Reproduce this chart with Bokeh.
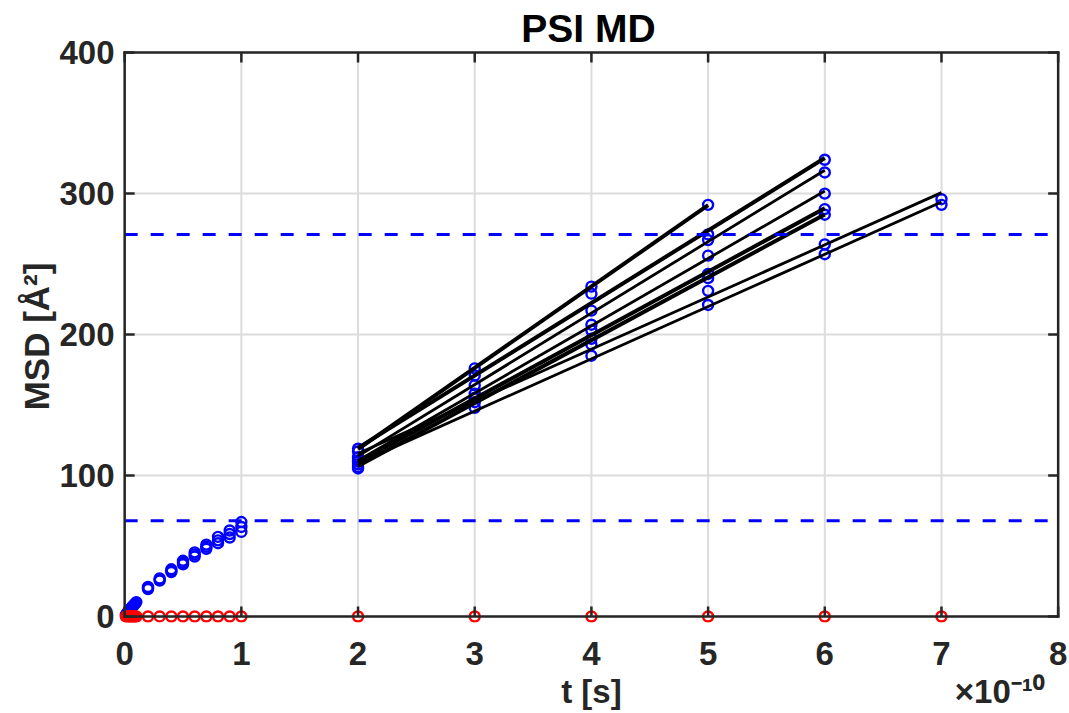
import numpy as np
from bokeh.plotting import figure
from bokeh.models import Range1d
from bokeh.embed import file_html
from bokeh.resources import INLINE

# ---------------- data (time in units of 1e-10 s, MSD in Å^2) ----------------
t_vshort = [0.01, 0.02, 0.03, 0.04, 0.05, 0.06, 0.07, 0.08, 0.09, 0.10]
msd_vshort = [1.2, 2.3, 3.4, 4.4, 5.4, 6.4, 7.4, 8.3, 9.2, 10.2]

t_short = [0.2, 0.3, 0.4, 0.5, 0.6, 0.7, 0.8, 0.9, 1.0]
msd_short_hi = [21.0, 27.0, 33.5, 39.5, 45.5, 51.0, 56.5, 61.0, 67.0]
msd_short_mid = [20.0, 26.0, 32.5, 38.0, 44.0, 49.5, 54.0, 58.5, 63.5]
msd_short_lo = [19.5, 25.5, 31.5, 37.0, 42.5, 48.0, 52.0, 56.0, 60.0]

t_long = [2, 3, 4, 5, 6, 7]
msd_A = [119, 176, 234, 292]
msd_B = [117, 171, 229, 271, 324]
msd_C = [113, 164, 217, 267, 315]
msd_D = [110, 158, 207, 256, 300]
msd_E = [108, 155, 203, 243, 289]
msd_F = [106, 152, 197, 240, 285]
msd_G = [110, 155, 193, 231, 264, 296]
msd_H = [105, 148, 185, 221, 257, 292]
long_series = [msd_A, msd_B, msd_C, msd_D, msd_E, msd_F, msd_G, msd_H]

thresholds = [271, 68]

x_ticks = [0, 1, 2, 3, 4, 5, 6, 7, 8]
y_ticks = [0, 100, 200, 300, 400]
x_min, x_max = 0, 8
y_min, y_max = 0, 400
x_label = "t [s]"
y_label = "MSD [Å²]"
x_multiplier = "×10⁻¹⁰"

# ---------------- styles ----------------
FONT = "Liberation Sans"
AX = "#262626"
GRID = "#dcdcdc"
fit_widths = [4.0, 4.0, 2.8, 2.8, 4.0, 4.0, 2.8, 2.8]
MULT_POS = 7.5   # where the multiplier text is centred (x units)

# the frame is a few pixels larger than the axes box so that markers that sit
# on the axes are drawn whole (as in the original)
p = figure(width=1069, height=713,
           x_range=Range1d(x_min - 0.07, x_max + 0.02),
           y_range=Range1d(y_min - 4.26, y_max + 1.5),
           output_backend="svg", toolbar_location=None,
           min_border_left=116, min_border_right=9,
           min_border_top=50, min_border_bottom=91,
           title="PSI MD")
p.background_fill_color = "white"
p.border_fill_color = "white"
p.outline_line_color = None
p.grid.visible = False

p.title.text_font = FONT
p.title.text_font_size = "39px"
p.title.text_font_style = "bold"
p.title.text_color = "black"
p.title.align = "center"
p.title.standoff = 2

# axes: only the labels come from Bokeh's axes; box and ticks are drawn below
for ax in (p.xaxis[0], p.yaxis[0]):
    ax.major_tick_in = 0
    ax.major_tick_out = 0
    ax.minor_tick_in = 0
    ax.minor_tick_out = 0
    ax.axis_line_color = None
    ax.major_tick_line_color = None
    ax.minor_tick_line_color = None
    ax.major_label_text_font = FONT
    ax.major_label_text_font_size = "33px"
    ax.major_label_text_font_style = "bold"
    ax.major_label_text_color = AX
    ax.axis_label_text_font = FONT
    ax.axis_label_text_font_size = "35px"
    ax.axis_label_text_font_style = "bold"
    ax.axis_label_text_color = AX

p.yaxis.ticker = y_ticks
p.yaxis.axis_label = y_label
p.yaxis.major_label_standoff = 2
p.yaxis.axis_label_standoff = 0

# x tick labels; the x label and the multiplier sit on a second text line
p.xaxis.ticker = x_ticks + [MULT_POS]
mid = x_ticks[len(x_ticks) // 2]
p.xaxis.major_label_overrides = {mid: "%s\n%s" % (mid, x_label),
                                 MULT_POS: "\n" + x_multiplier}
p.xaxis.major_label_text_line_height = 1.05
p.xaxis.major_label_standoff = 12

# grid (drawn first, behind the data)
p.segment(x0=x_ticks, y0=[y_min] * len(x_ticks), x1=x_ticks, y1=[y_max] * len(x_ticks),
          line_color=GRID, line_width=2)
p.segment(x0=[x_min] * len(y_ticks), y0=y_ticks, x1=[x_max] * len(y_ticks), y1=y_ticks,
          line_color=GRID, line_width=2)

MK = dict(marker="circle", size=10, fill_color=None, line_width=2.4)

# blue MSD points
p.scatter(t_vshort, msd_vshort, line_color="blue", **MK)
for arr in (msd_short_lo, msd_short_mid, msd_short_hi):
    p.scatter(t_short, arr, line_color="blue", **MK)
for arr in long_series:
    p.scatter(t_long[:len(arr)], arr, line_color="blue", **MK)

# linear fits (black)
for arr, w in zip(long_series, fit_widths):
    tt = np.array(t_long[:len(arr)], dtype=float)
    k, b = np.polyfit(tt, np.array(arr, dtype=float), 1)
    xs = [tt[0], tt[-1]]
    p.line(xs, [k * x + b for x in xs], line_color="black", line_width=w)

# thresholds (dashed blue)
p.segment(x0=[x_min] * len(thresholds), y0=thresholds,
          x1=[x_max] * len(thresholds), y1=thresholds,
          line_color="blue", line_width=3, line_dash="13 13")

# red zero-baseline points
t_all = t_vshort + t_short + t_long
p.scatter(t_all, [0] * len(t_all), line_color="red", **MK)

# axes box with inward ticks on all four sides
p.segment(x0=[x_min, x_min, x_min, x_max], y0=[y_min, y_min, y_max, y_min],
          x1=[x_max, x_min, x_max, x_max], y1=[y_min, y_max, y_max, y_max],
          line_color=AX, line_width=2.5, line_cap="square")
nx, ny = len(x_ticks), len(y_ticks)
p.ray(x=x_ticks, y=[y_min] * nx, length=10, length_units="screen",
      angle=np.pi / 2, line_color=AX, line_width=2.5)
p.ray(x=x_ticks, y=[y_max] * nx, length=10, length_units="screen",
      angle=-np.pi / 2, line_color=AX, line_width=2.5)
p.ray(x=[x_min] * ny, y=y_ticks, length=10, length_units="screen",
      angle=0, line_color=AX, line_width=2.5)
p.ray(x=[x_max] * ny, y=y_ticks, length=10, length_units="screen",
      angle=np.pi, line_color=AX, line_width=2.5)

open("out.html", "w").write(file_html(p, INLINE))
